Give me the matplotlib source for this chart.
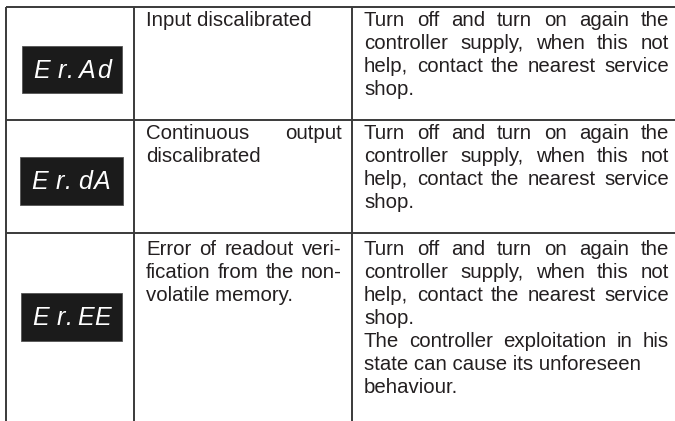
import matplotlib
matplotlib.use('Agg')
from matplotlib import pyplot as plt
from matplotlib.patches import Rectangle

W, H = 675, 421

# table content
codes = [['E', 'r', '.', 'A', 'd'], ['E', 'r', '.', 'd', 'A'], ['E', 'r', '.', 'E', 'E']]
descriptions = [
    [('Input discalibrated', False)],
    [('Continuous output', True), ('discalibrated', False)],
    [('Error of readout veri-', True), ('fication from the non-', True),
     ('volatile memory.', False)],
]
restart_text = [('Turn off and turn on again the', True),
                ('controller supply, when this not', True),
                ('help, contact the nearest service', True),
                ('shop.', False)]
actions = [
    restart_text,
    restart_text,
    restart_text + [('The controller exploitation in his', True),
                    ('state can cause its unforeseen', False),
                    ('behaviour.', False)],
]

# layout in pixels
row_tops = [7, 120, 233]
first_bases = [26, 139, 255]
col_x = [6, 134, 352]
col_text = [(146, 342), (364, 669)]
boxes = [(22, 46, 100, 47), (20, 157, 103, 48), (21, 293, 101, 48)]
cell_offsets = [19.5, 39.5, 48, 65, 82]
line_h = 23
line_col = '#3a3a3a'
text_col = '#231f20'

fig = plt.figure(figsize=(W / 100, H / 100), dpi=100)
ax = fig.add_axes([0, 0, 1, 1])
ax.set_xlim(0, W)
ax.set_ylim(H, 0)
ax.axis('off')
renderer = fig.canvas.get_renderer()

font = dict(family=['Liberation Sans', 'DejaVu Sans'], size=14.7, color=text_col)


def word_width(s):
    t = ax.text(0, 0, s, **font)
    w = t.get_window_extent(renderer).width
    t.remove()
    return w


def draw_lines(lines, x0, x1, y0):
    for k, (line, justify) in enumerate(lines):
        y = y0 + k * line_h
        words = line.split()
        if not justify or len(words) < 2:
            ax.text(x0, y, line, va='baseline', ha='left', **font)
            continue
        widths = [word_width(w) for w in words]
        gap = (x1 - x0 - sum(widths)) / (len(words) - 1)
        x = x0
        for w, wd in zip(words, widths):
            ax.text(x, y, w, va='baseline', ha='left', **font)
            x += wd + gap


# grid lines
for y in row_tops:
    ax.plot([col_x[0], W], [y, y], color=line_col, lw=1.4, solid_capstyle='butt')
for x in col_x:
    ax.plot([x, x], [row_tops[0], H], color=line_col, lw=1.4, solid_capstyle='butt')

for i, code in enumerate(codes):
    bx, by, bw, bh = boxes[i]
    ax.add_patch(Rectangle((bx, by), bw, bh, facecolor='#1b1b1b',
                           edgecolor='#555555', lw=0.6))
    for ch, off in zip(code, cell_offsets):
        ax.text(bx + off, by + bh / 2 + 8, ch, ha='center', va='baseline',
                color='white', family='Liberation Sans', style='italic',
                size=18)
    draw_lines(descriptions[i], col_text[0][0], col_text[0][1], first_bases[i])
    draw_lines(actions[i], col_text[1][0], col_text[1][1], first_bases[i])

fig.savefig('out.png', dpi=100, facecolor='white')
